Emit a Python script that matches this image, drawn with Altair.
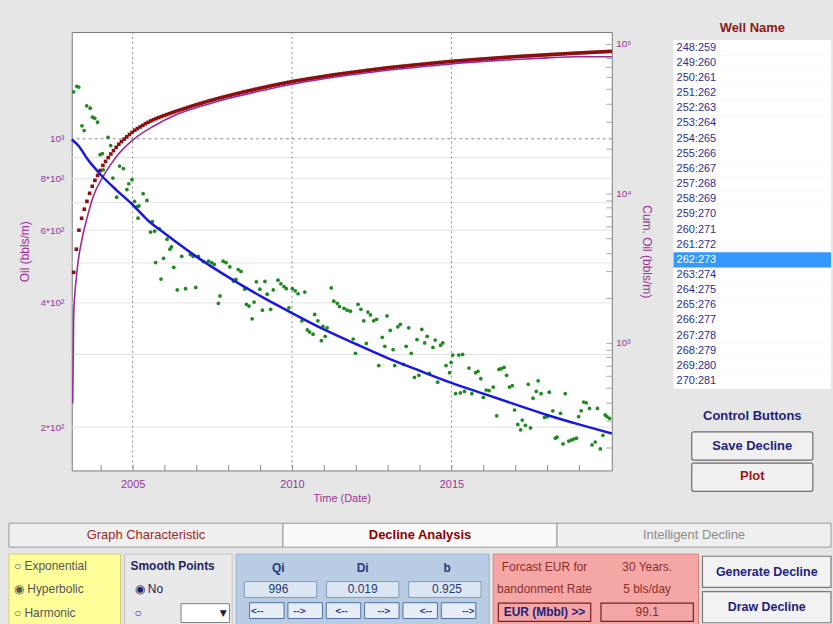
import altair as alt
import pandas as pd

PURPLE = '#993399'
FONT = 'Liberation Sans'

# ---------------- data ----------------
oil_year = [2003.15, 2003.25, 2003.31, 2003.41, 2003.48, 2003.56, 2003.67, 2003.74, 2003.81, 2003.90,
            2003.98, 2004.05, 2004.08, 2004.23, 2004.31, 2004.38, 2004.50, 2004.59, 2004.71, 2004.82,
            2004.88, 2004.98, 2005.06, 2005.15, 2005.20, 2005.17, 2005.33, 2005.45, 2005.62, 2005.56,
            2005.69, 2005.72, 2005.84, 2005.89, 2005.97, 2006.08, 2006.17, 2006.22, 2006.29, 2006.40,
            2006.54, 2006.66, 2006.81, 2006.90, 2006.98, 2007.06, 2007.22, 2007.38, 2007.48, 2007.56,
            2007.69, 2007.74, 2007.84, 2007.93, 2008.05, 2008.16, 2008.24, 2008.31, 2008.40, 2008.52,
            2008.57, 2008.65, 2008.75, 2008.81, 2008.88, 2008.99, 2009.07, 2009.15, 2009.22, 2009.33,
            2009.41, 2009.56, 2009.65, 2009.75, 2009.82, 2009.90, 2010.01, 2010.10, 2010.19, 2010.31,
            2010.40, 2010.48, 2010.55, 2010.66, 2010.71, 2010.81, 2010.92, 2010.97, 2011.04, 2011.10,
            2011.23, 2011.31, 2011.42, 2011.49, 2011.63, 2011.73, 2011.83, 2011.92, 2011.99, 2012.07,
            2012.16, 2012.25, 2012.33, 2012.38, 2012.46, 2012.56, 2012.65, 2012.72, 2012.83, 2012.91,
            2012.98, 2013.08, 2013.17, 2013.22, 2013.32, 2013.40, 2013.50, 2013.58, 2013.66, 2013.74,
            2013.84, 2013.92, 2013.98, 2014.07, 2014.16, 2014.24, 2014.31, 2014.42, 2014.49, 2014.57,
            2014.66, 2014.73, 2014.83, 2014.94, 2014.99, 2015.04, 2015.13, 2015.23, 2015.28, 2015.35,
            2015.41, 2015.55, 2015.64, 2015.76, 2015.83, 2015.92, 2016.00, 2016.09, 2016.18, 2016.31,
            2016.42, 2016.49, 2016.56, 2016.65, 2016.73, 2016.82, 2016.91, 2016.98, 2017.08, 2017.17,
            2017.22, 2017.32, 2017.41, 2017.48, 2017.56, 2017.66, 2017.72, 2017.81, 2017.92, 2018.00,
            2018.07, 2018.18, 2018.26, 2018.31, 2018.42, 2018.50, 2018.57, 2018.68, 2018.76, 2018.83,
            2018.92, 2018.99, 2019.07, 2019.15, 2019.23, 2019.33, 2019.41, 2019.51, 2019.58, 2019.67,
            2019.75, 2019.82, 2019.88, 2019.96]
oil_rate = [1300, 1340, 1335, 1075, 1047, 1202, 1186, 1128, 1122, 1097,
            915, 921, 841, 1008, 963, 803, 722, 859, 847, 753,
            778, 796, 705, 685, 688, 642, 736, 709, 630, 594,
            597, 501, 605, 457, 513, 571, 540, 547, 488, 430,
            519, 433, 524, 519, 436, 519, 504, 505, 501, 496,
            399, 416, 505, 501, 489, 452, 456, 482, 477, 432,
            397, 393, 366, 402, 450, 432, 384, 451, 420, 386,
            430, 454, 445, 438, 433, 389, 433, 428, 421, 362,
            425, 344, 340, 336, 375, 362, 324, 351, 332, 348,
            435, 404, 399, 392, 388, 384, 382, 327, 302, 397,
            386, 362, 319, 380, 374, 362, 365, 282, 330, 314,
            372, 343, 308, 282, 350, 355, 284, 314, 348, 302,
            264, 326, 267, 345, 320, 332, 270, 312, 325, 257,
            316, 320, 282, 271, 287, 299, 241, 299, 242, 300,
            244, 278, 241, 271, 273, 262, 236, 246, 245, 250,
            213, 276, 277, 279, 267, 250, 252, 220, 203, 197,
            208, 202, 254, 199, 235, 244, 259, 241, 211, 212,
            243, 219, 188, 189, 216, 182, 241, 185, 186, 187,
            188, 212, 219, 230, 229, 222, 181, 184, 222, 177,
            191, 214, 212, 210]

fit_year = [2003.09, 2003.3, 2003.6, 2004.0, 2004.5, 2005.0, 2005.5, 2006.0, 2007.0, 2008.0, 2009.0,
            2010.0, 2011.0, 2012.0, 2013.0, 2014.0, 2015.0, 2016.0, 2017.0, 2018.0, 2019.0, 2020.03]
fit_rate = [996, 962, 889, 818, 750, 692, 632, 590, 518, 462, 416,
            378, 345, 318, 294, 274, 256, 241, 227, 214, 203, 193]

cum_start_year = 2003.15  # first monthly cumulative point
cum_oil = [2960, 4230, 5670, 6810, 7830, 8840, 10000, 11140, 12210, 13180, 14230, 15370, 16340,
           17330, 18320, 19310, 20300, 21290, 22200, 23050, 23900, 24750, 25600, 26440,
           27100, 27800, 28500, 29180, 29840, 30500, 31050, 31600, 32120, 32640, 33140, 33630,
           34120, 34610, 35100, 35600, 36090, 36580, 37080, 37570, 38070, 38560, 39060, 39560, 40050,
           40540, 41030, 41510, 41990, 42470, 42950, 43430, 43900, 44370, 44840, 45310, 45780, 46250,
           46720, 47180, 47640, 48100, 48560, 49020, 49480, 49940, 50400, 50860, 51320, 51780, 52240,
           52700, 53150, 53600, 54050, 54500, 54950, 55400, 55850,
           56240, 56630, 57020, 57410, 57800, 58190, 58580, 58970, 59360, 59750, 60140, 60530, 60920,
           61310, 61700, 62090,
           62440, 62790, 63140, 63490, 63840, 64190, 64540, 64890, 65240, 65590, 65940, 66290, 66640,
           66990, 67340, 67690, 68040, 68390, 68740, 69090,
           69390, 69690, 69990, 70290, 70590, 70890, 71190, 71490, 71790, 72090, 72390, 72690, 72990,
           73290, 73590, 73890, 74190, 74490, 74790, 75090, 75390, 75690, 75990, 76290,
           76530, 76770, 77010, 77250, 77490, 77730, 77970, 78210, 78450, 78690, 78930, 79170, 79410,
           79650, 79890, 80130, 80370, 80610, 80850, 81090, 81330, 81570, 81810, 82050,
           82250, 82450, 82650, 82850, 83050, 83250, 83450, 83650, 83850, 84050, 84250, 84450, 84650,
           84850, 85050, 85250, 85450, 85650, 85850, 86050, 86250, 86450, 86650, 86850,
           87030, 87210, 87390, 87570, 87750, 87930, 88110, 88290, 88470, 88650, 88830, 89010]

cumfit_year = [2003.12, 2003.15, 2003.24, 2003.40, 2003.56, 2003.77, 2004.08, 2004.50, 2005.02, 2005.65,
               2006.38, 2007.31, 2008.0, 2009.0, 2010.0, 2011.0, 2012.0, 2013.0, 2014.0, 2015.0,
               2016.0, 2017.0, 2018.0, 2018.9, 2020.03]
cumfit_val = [392, 1520, 2810, 4810, 6710, 9590, 13030, 17730, 22900, 28100,
              33630, 39200, 43100, 48400, 53700, 58400, 62600, 66600, 70000, 73500,
              76300, 78600, 80600, 81900, 82000]

oil_grid = [200, 300, 400, 500, 600, 700, 800, 900]
oil_dash = [1000]
oil_labels = [200, 400, 600, 800, 1000]
year_grid = [2005, 2010, 2015]
year_ticks = [2004, 2005, 2006, 2007, 2008, 2009, 2010, 2011, 2012, 2013, 2014, 2015, 2016, 2017, 2018, 2019]
cum_ticks = [200, 300, 400, 500, 600, 700, 800, 900, 1000, 2000, 3000, 4000, 5000, 6000, 7000, 8000,
             9000, 10000, 20000, 30000, 40000, 50000, 60000, 70000, 80000, 90000, 100000]

wells = ["248:259", "249:260", "250:261", "251:262", "252:263", "253:264", "254:265", "255:266",
         "256:267", "257:268", "258:269", "259:270", "260:271", "261:272", "262:273", "263:274",
         "264:275", "265:276", "266:277", "267:278", "268:279", "269:280", "270:281"]
selected_well = "262:273"
control_rows = ["Control Buttons", "Save Decline", "Plot"]
control_colors = ["#22227A", "#22227A", "#A01414"]
tab_names = ["Graph Characteristic", "Decline Analysis", "Intelligent Decline"]
tab_fill = ["#EFEFEF", "#FAFAFA", "#EFEFEF"]
tab_color = ["#9B2B2B", "#8B0000", "#8C8C8C"]
model_opts = ["○ Exponential", "◉ Hyperbolic", "○ Harmonic"]
param_names = ["Qi", "Di", "b"]
param_values = ["996", "0.019", "0.925"]
eur_left = ["Forcast EUR for", "bandonment Rate", "EUR (Mbbl) >>"]
eur_right = ["30  Years.", "5  bls/day", "99.1"]
action_buttons = ["Generate Decline", "Draw Decline"]

# ---------------- main chart ----------------
green_df = pd.DataFrame({'yr': oil_year, 'oil': oil_rate})
fit_df = pd.DataFrame({'yr': fit_year, 'oil': fit_rate})
cum_df = pd.DataFrame({'yr': [cum_start_year + i / 12 for i in range(len(cum_oil))], 'cum': cum_oil})
cumfit_df = pd.DataFrame({'yr': cumfit_year, 'cum': cumfit_val})

xs = alt.Scale(domain=[2003.09, 2020.03], nice=False, zero=False)
ysL = alt.Scale(type='log', domain=[157, 1815], nice=False)
ysR = alt.Scale(type='log', domain=[140, 120000], nice=False)

xaxis = alt.Axis(values=year_ticks, labelExpr="datum.value % 5 == 0 ? datum.value : ''",
                 tickSize=6, offset=-6, domain=False, grid=False, tickColor='#8A8A8A',
                 labelColor=PURPLE, labelFontSize=11, labelPadding=8, labelFont=FONT,
                 title='Time (Date)', titleColor=PURPLE, titleFontSize=11, titleFont=FONT,
                 titleFontWeight='normal', titlePadding=3)
X = alt.X('yr:Q', scale=xs, axis=xaxis)

yaxisL = alt.Axis(values=oil_labels,
                  labelExpr="datum.value >= 1000 ? '10³' : (datum.value/100) + '*10²'",
                  ticks=False, domain=False, grid=False, labelColor=PURPLE, labelFontSize=10,
                  labelFont=FONT, labelPadding=8, title='Oil (bbls/m)', titleColor=PURPLE,
                  titleFontSize=12, titleFont=FONT, titleFontWeight='normal', titlePadding=8)
yaxisR = alt.Axis(orient='right', values=cum_ticks,
                  labelExpr="datum.value == 1000 ? '10³' : datum.value == 10000 ? '10⁴' : datum.value == 100000 ? '10⁵' : ''",
                  tickSize=6, offset=-6, domain=False, grid=False, tickColor='#A8A8A8',
                  labelColor=PURPLE, labelFontSize=10, labelFont=FONT, labelPadding=4,
                  labelOverlap=False, title='Cum. Oil (bbls/m)', titleColor=PURPLE, titleFontSize=12,
                  titleFont=FONT, titleFontWeight='normal', titlePadding=8)

grid = alt.Chart(pd.DataFrame({'oil': oil_grid})).mark_rule(color='#E2E2E2', strokeWidth=1).encode(
    y=alt.Y('oil:Q', scale=ysL, axis=yaxisL))
dash = alt.Chart(pd.DataFrame({'oil': oil_dash})).mark_rule(color='#8E8E8E', strokeDash=[3, 3]).encode(
    y=alt.Y('oil:Q', scale=ysL, axis=None))
vgrid = alt.Chart(pd.DataFrame({'yr': year_grid})).mark_rule(color='#8E8E8E', strokeDash=[2, 3]).encode(x=X)
red = alt.Chart(cum_df).mark_square(size=13, color='#8B0F0F', opacity=1).encode(
    x=X, y=alt.Y('cum:Q', scale=ysR, axis=yaxisR))
purple = alt.Chart(cumfit_df).mark_line(color='#9A2A9A', strokeWidth=1.6, interpolate='monotone').encode(
    x=X, y=alt.Y('cum:Q', scale=ysR, axis=None))
green = alt.Chart(green_df).mark_circle(size=14, color='#1C8A1C', opacity=1).encode(
    x=X, y=alt.Y('oil:Q', scale=ysL, axis=None))
blue = alt.Chart(fit_df).mark_line(color='#1818E0', strokeWidth=2.5, interpolate='monotone').encode(
    x=X, y=alt.Y('oil:Q', scale=ysL, axis=None))

main = alt.layer(grid, dash, vgrid, red, purple, green, blue).resolve_scale(y='independent').properties(
    width=542, height=440, view=alt.ViewBackground(fill='white', stroke='#7A7A7A', strokeWidth=1))


def backdrop(fill, stroke):
    # a rect with no position channel fills its whole view
    return alt.Chart(pd.DataFrame({'s': [0]})).mark_rect(stroke=stroke, strokeWidth=1).encode(
        color=alt.value(fill))


def spacer(w, h):
    return alt.Chart(pd.DataFrame({'s': [0]})).mark_rect(opacity=0).encode(
        color=alt.value('white')).properties(width=w, height=h)


# ---------------- right panel (well list + control buttons) ----------------
yW = alt.Y('well:N', scale=alt.Scale(domain=wells, range=[8, 358], paddingInner=0, paddingOuter=0), axis=None)
wells_df = pd.DataFrame({'well': wells})
list_bg = alt.Chart(wells_df).mark_rect(fill='white').encode(y=yW)
sel = alt.Chart(pd.DataFrame({'well': [selected_well]})).mark_rect(color='#3399FF').encode(y=yW)
wtxt = alt.Chart(wells_df).mark_text(align='left', font=FONT, fontSize=11).encode(
    x=alt.value(3), y=yW, text='well:N',
    color=alt.condition(alt.datum.well == selected_well, alt.value('white'), alt.value('#2E2E8A')))

cb_df = pd.DataFrame({'b': control_rows, 'c': control_colors, 'k': ['k'] * len(control_rows)})
yb = alt.Y('b:N', scale=alt.Scale(domain=control_rows, range=[370, 461], paddingInner=0.1, paddingOuter=0), axis=None)
xb = alt.X('k:N', scale=alt.Scale(paddingOuter=0.15), axis=None)
cb_rect = alt.Chart(cb_df).transform_filter(alt.datum.b != 'Control Buttons').mark_rect(
    fill='#F0F0F0', stroke='#6E6E6E', strokeWidth=1.2, cornerRadius=2).encode(x=xb, y=yb)
cb_text = alt.Chart(cb_df).mark_text(font=FONT, fontSize=13, fontWeight='bold').encode(
    x=xb, y=yb, text='b:N', color=alt.Color('c:N', scale=None))

right_panel = alt.layer(list_bg, sel, wtxt, cb_rect, cb_text).resolve_scale(y='independent').properties(
    width=158, height=486,
    title=alt.TitleParams('Well Name', color='#8B1A1A', font=FONT, fontSize=13, fontWeight='bold',
                          offset=-3, anchor='middle'))

top_row = alt.hconcat(spacer(1, 1), main, right_panel, spacing=62, bounds='flush')

# ---------------- bottom panel ----------------
tab_df = pd.DataFrame({'tab': tab_names, 'fill': tab_fill, 'color': tab_color})
xt = alt.X('tab:N', scale=alt.Scale(domain=tab_names, paddingInner=0, paddingOuter=0), axis=None)
tab_rect = alt.Chart(tab_df).mark_rect(stroke='#9A9A9A', strokeWidth=1).encode(x=xt, fill=alt.Fill('fill:N', scale=None))
tab_txt = alt.Chart(tab_df).transform_filter(alt.datum.tab != 'Decline Analysis').mark_text(
    font=FONT, fontSize=13).encode(x=xt, text='tab:N', color=alt.Color('color:N', scale=None))
tab_bold = alt.Chart(tab_df).transform_filter(alt.datum.tab == 'Decline Analysis').mark_text(
    font=FONT, fontSize=13, fontWeight='bold').encode(x=xt, text='tab:N', color=alt.Color('color:N', scale=None))
tabs = alt.layer(tab_rect, tab_txt, tab_bold).properties(width=825, height=24)

# model box
ym = alt.Y('o:N', scale=alt.Scale(domain=model_opts, paddingOuter=0.15), axis=None)
model_txt = alt.Chart(pd.DataFrame({'o': model_opts})).mark_text(
    align='left', font=FONT, fontSize=12, color='#555555').encode(x=alt.value(5), y=ym, text='o:N')
model_box = alt.layer(backdrop('#FFFF99', '#D2D26E'), model_txt).properties(width=112, height=71)

# smooth points box
smooth_rows = ['Smooth Points', '◉ No', '○']
ysm = alt.Y('r:N', scale=alt.Scale(domain=smooth_rows, paddingInner=0.2, paddingOuter=0.1), axis=None)
sm_head = alt.Chart(pd.DataFrame({'r': ['Smooth Points']})).mark_text(
    align='left', font=FONT, fontSize=12, fontWeight='bold', color='#22225F').encode(x=alt.value(6), y=ysm, text='r:N')
sm_rows = alt.Chart(pd.DataFrame({'r': ['◉ No', '○']})).mark_text(
    align='left', font=FONT, fontSize=12, color='#22225F').encode(x=alt.value(10), y=ysm, text='r:N')
combo_cols = ['a', 'b']
xc = alt.X('c:N', scale=alt.Scale(domain=combo_cols, paddingInner=0.1, paddingOuter=0.05), axis=None)
sm_combo = alt.Chart(pd.DataFrame({'r': ['○'], 'c': ['b']})).mark_rect(fill='white', stroke='#7F7F7F').encode(x=xc, y=ysm)
sm_arrow = alt.Chart(pd.DataFrame({'r': ['○'], 'c': ['b']})).mark_text(
    font='DejaVu Sans', fontSize=9, dx=18, color='#222222', text='▼').encode(x=xc, y=ysm)
smooth_box = alt.layer(backdrop('#E9E9E9', '#C4C4C4'), sm_head, sm_rows, sm_combo, sm_arrow).properties(
    width=108, height=71)

# parameter box
prow = ['h', 'v', 'btn']
yp = alt.Y('row:N', scale=alt.Scale(domain=prow, paddingInner=0.25, paddingOuter=0.3), axis=None)
xp = alt.X('p:N', scale=alt.Scale(domain=param_names, paddingInner=0.12, paddingOuter=0.1), axis=None)
pdf = pd.DataFrame({'p': param_names, 'val': param_values})
p_head = alt.Chart(pdf).transform_calculate(row="'h'").mark_text(
    font=FONT, fontSize=12, fontWeight='bold', color='#1F3A7A').encode(x=xp, y=yp, text='p:N')
p_box = alt.Chart(pdf).transform_calculate(row="'v'").mark_rect(
    fill='#DCE6F2', stroke='#7F9DB9').encode(x=xp, y=yp)
p_val = alt.Chart(pdf).transform_calculate(row="'v'").mark_text(
    font=FONT, fontSize=12, color='#1F3A7A').encode(x=xp, y=yp, text='val:N')
sub_cols = ['Qi<', 'Qi>', 'Di<', 'Di>', 'b<', 'b>']
sub_txt = ['<--', '-->', '<--', '-->', '<--', '-->']
xsub = alt.X('sc:N', scale=alt.Scale(domain=sub_cols, paddingInner=0.1, paddingOuter=0.35), axis=None)
sub_df = pd.DataFrame({'sc': sub_cols, 't': sub_txt})
p_btn = alt.Chart(sub_df).transform_calculate(row="'btn'").mark_rect(fill='#E6EDF7', stroke='#4F6F9F').encode(x=xsub, y=yp)
p_btn_t = alt.Chart(sub_df).transform_calculate(row="'btn'").mark_text(
    font=FONT, fontSize=10, fontWeight='bold', color='#1F3A7A').encode(x=xsub, y=yp, text='t:N')
param_box = alt.layer(backdrop('#B8CCE4', '#95B3D7'), p_head, p_box, p_val, p_btn, p_btn_t).resolve_scale(
    x='independent').properties(width=254, height=71)

# EUR box
erow = ['r1', 'r2', 'r3']
ye = alt.Y('row:N', scale=alt.Scale(domain=erow, paddingInner=0.2, paddingOuter=0.15), axis=None)
xe = alt.X('col:N', scale=alt.Scale(domain=['L', 'R'], paddingInner=0.1, paddingOuter=0.05), axis=None)
e_df = pd.DataFrame({'row': erow * 2, 'col': ['L'] * 3 + ['R'] * 3, 't': eur_left + eur_right})
e_btn = alt.Chart(e_df).transform_filter(alt.datum.row == 'r3').mark_rect(
    fill='#F4A6A6', stroke='#7A1E1E', strokeWidth=1.2).encode(x=xe, y=ye)
e_txt = alt.Chart(e_df).transform_filter(alt.datum.t != 'EUR (Mbbl) >>').mark_text(
    font=FONT, fontSize=12, color='#8B2E2E').encode(x=xe, y=ye, text='t:N')
e_bold = alt.Chart(e_df).transform_filter(alt.datum.t == 'EUR (Mbbl) >>').mark_text(
    font=FONT, fontSize=12, fontWeight='bold', color='#22227A').encode(x=xe, y=ye, text='t:N')
eur_box = alt.layer(backdrop('#F5A7A5', '#E08080'), e_btn, e_txt, e_bold).properties(width=206, height=71)

# action buttons
ya = alt.Y('a:N', scale=alt.Scale(domain=action_buttons, paddingInner=0.12, paddingOuter=0.06), axis=None)
a_df = pd.DataFrame({'a': action_buttons})
a_rect = alt.Chart(a_df).mark_rect(fill='#F2F2F2', stroke='#7A7A7A', strokeWidth=1.2).encode(y=ya)
a_txt = alt.Chart(a_df).mark_text(font=FONT, fontSize=12.5, fontWeight='bold', color='#22227A').encode(
    y=ya, text='a:N')
act_box = alt.layer(a_rect, a_txt).properties(width=129, height=71)

controls = alt.hconcat(model_box, smooth_box, param_box, eur_box, act_box, spacing=4, bounds='flush')
bottom = alt.vconcat(tabs, controls, spacing=5)

chart = alt.vconcat(top_row, bottom, spacing=5).properties(
    padding={'left': 8, 'top': 20, 'right': 0, 'bottom': 0}
).configure(background='#E6E6E6').configure_view(stroke='transparent')

chart.save("out.html", embed_options={"renderer": "svg", "actions": False})
